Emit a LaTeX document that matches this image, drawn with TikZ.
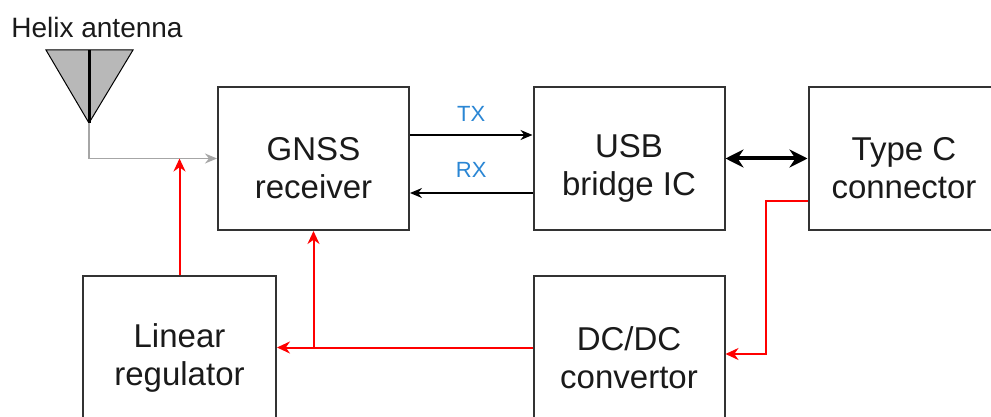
\documentclass[tikz,border=0pt]{standalone}
\usepackage{fontspec}
\setmainfont{Liberation Sans}
\usetikzlibrary{arrows.meta}
\definecolor{boxline}{HTML}{333333}
\definecolor{txtcol}{HTML}{1A1A1A}
\definecolor{sigblue}{HTML}{2A86D4}
\definecolor{antgray}{HTML}{B8B8B8}
\definecolor{rfgray}{HTML}{A6A6A6}
\tikzset{
  block/.style={draw=boxline, line width=1pt, minimum width=95.5pt, minimum height=71.5pt, inner sep=0pt},
  blocktext/.style={font=\fontsize{16.5}{19}\selectfont, text=txtcol, align=center},
  sig/.style={draw=black, line width=0.7pt, -{Stealth[length=6pt,width=5pt]}},
  pwr/.style={draw=red, line width=1pt, -{Stealth[length=6.5pt,width=6pt]}},
  siglabel/.style={font=\fontsize{11}{13}\selectfont, text=sigblue},
}

\begin{document}
\begin{tikzpicture}[x=0.5pt, y=-0.5pt]
        \useasboundingbox (0,0) rectangle (991,417);

        % blocks
        \node (gnss)   [block] at (313.5,158.5) {};
        \node (usb)    [block] at (629,158.5)   {};
        \node (typec)  [block] at (904,158.5)   {};
        \node (linreg) [block, minimum width=96.5pt] at (179.5,347.5) {};
        \node (dcdc)   [block] at (629,347.5)   {};

        \node (gnsstxt)   [blocktext, yshift=-5pt] at (gnss)   {GNSS\\receiver};
        \node (usbtxt)    [blocktext, yshift=-5pt] at (usb)    {USB\\bridge IC};
        \node (typectxt)  [blocktext, yshift=-5pt] at (typec)  {Type C\\connector};
        \node (linregtxt) [blocktext, yshift=-5pt] at (linreg) {Linear\\regulator};
        \node (dcdctxt)   [blocktext, yshift=-5pt] at (dcdc)   {DC/DC\\convertor};

        % antenna
        \coordinate (antL) at (46,50);
        \coordinate (antR) at (133,50);
        \coordinate (antTop) at (89,50);
        \coordinate (antTip) at (89,123);
        \filldraw[fill=antgray, draw=black, line width=0.5pt] (antL) -- (antR) -- (antTip) -- cycle;
        \draw[black, line width=1.5pt] (antTop) -- (antTip);
        \node (antlabel) [font=\fontsize{14}{16}\selectfont, text=txtcol] at (97,27) {Helix antenna};

        % RF path
        \draw[draw=rfgray, line width=0.7pt, -{Stealth[length=6pt,width=5pt]}] (antTip) |- (gnss.west);

        % data lines
        \draw[sig] ([yshift=11.75pt]gnss.east) -- node[siglabel, above=3pt] {TX} ([yshift=11.75pt]usb.west);
        \draw[sig] ([yshift=-17.25pt]usb.west) -- node[siglabel, above=4pt] {RX} ([yshift=-17.25pt]gnss.east);
        \draw[line width=2pt, {Stealth[length=9pt,width=9pt]}-{Stealth[length=9pt,width=9pt]}] (usb.east) -- (typec.west);

        % power lines
        \draw[pwr] ([yshift=-21.25pt]typec.west) -- ++(-42,0) |- ([yshift=-3.25pt]dcdc.east);
        \draw[pwr] (dcdc.west) -- (linreg.east);
        \draw[pwr] (gnss.south |- dcdc.west) -- (gnss.south);
        \draw[pwr] (linreg.north) -- (linreg.north |- gnss.west);
      \end{tikzpicture}
\end{document}
